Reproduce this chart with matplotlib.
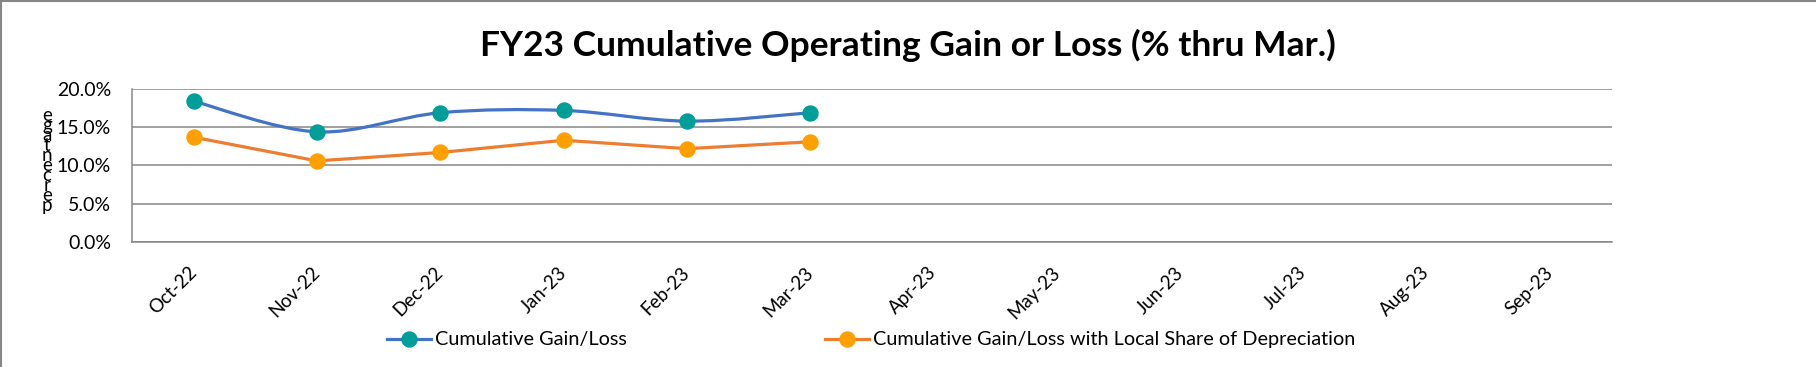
import matplotlib
matplotlib.use("Agg")
import matplotlib.pyplot as plt
import numpy as np
from matplotlib.lines import Line2D
from matplotlib.patches import PathPatch
from matplotlib.path import Path
from matplotlib.ticker import PercentFormatter

months = ["Oct-22", "Nov-22", "Dec-22", "Jan-23", "Feb-23", "Mar-23",
          "Apr-23", "May-23", "Jun-23", "Jul-23", "Aug-23", "Sep-23"]
gain_loss = [18.4, 14.4, 16.9, 17.2, 15.8, 16.9]
gain_loss_dep = [13.7, 10.6, 11.7, 13.3, 12.2, 13.1]

TITLE = "FY23 Cumulative Operating Gain or Loss (% thru Mar.)"
LABEL_1 = "Cumulative Gain/Loss"
LABEL_2 = "Cumulative Gain/Loss with Local Share of Depreciation"

BLUE = "#4472C4"
TEAL = "#009E98"
ORANGE_LINE = "#ED7D31"
ORANGE_MARK = "#FFA000"
GRID = "#868686"

plt.rcParams["font.family"] = ["Lato", "DejaVu Sans"]

W, H = 1816, 367
fig = plt.figure(figsize=(W / 100, H / 100), dpi=100)
ax = fig.add_axes([132 / W, 1 - 242 / H, (1612 - 132) / W, (242 - 89) / H])


def smooth_path(xs, ys):
    # Excel-style smoothed line: cubic Bezier through every point
    pts = np.column_stack([xs, ys])
    verts = [pts[0]]
    codes = [Path.MOVETO]
    n = len(pts)
    for i in range(n - 1):
        p0 = pts[max(i - 1, 0)]
        p1 = pts[i]
        p2 = pts[i + 1]
        p3 = pts[min(i + 2, n - 1)]
        c1 = p1 + (p2 - p0) / 6.0
        c2 = p2 - (p3 - p1) / 6.0
        verts += [c1, c2, p2]
        codes += [Path.CURVE4] * 3
    return Path(verts, codes)


x1 = np.arange(len(gain_loss))
x2 = np.arange(len(gain_loss_dep))

ax.add_patch(PathPatch(smooth_path(x1, gain_loss), facecolor="none",
                       edgecolor=BLUE, lw=2.3, zorder=3))
ax.plot(x1, gain_loss, ls="none", marker="o", ms=10.8, color=TEAL, zorder=4)
ax.plot(x2, gain_loss_dep, color=ORANGE_LINE, lw=2.3, zorder=3)
ax.plot(x2, gain_loss_dep, ls="none", marker="o", ms=10.8, color=ORANGE_MARK, zorder=4)

ax.set_xlim(-0.5, len(months) - 0.5)
ax.set_ylim(0, 20)
ax.set_yticks([0, 5, 10, 15, 20])
ax.yaxis.set_major_formatter(PercentFormatter(decimals=1))
ax.set_xticks(range(len(months)))
ax.set_xticklabels(months, rotation=45, ha="right", va="center",
                   rotation_mode="anchor", fontsize=13.5)
ax.tick_params(axis="x", length=0, pad=20)
ax.tick_params(axis="y", length=0, pad=15, labelsize=14)
ax.grid(axis="y", color=GRID, lw=1.1)
ax.set_axisbelow(True)
for s in ["top", "right"]:
    ax.spines[s].set_visible(False)
ax.spines["left"].set_color(GRID)
ax.spines["bottom"].set_color(GRID)
ax.spines["left"].set_linewidth(1.1)
ax.spines["bottom"].set_linewidth(1.1)

fig.text(0.5, 1 - 45 / H, TITLE, ha="center", va="center",
         fontsize=25.5, fontweight="bold")

# stacked y-label as rendered in the source
fig.text(47 / W, 1 - 161 / H, "\n".join(reversed("percentage")),
         ha="center", va="center", fontsize=13.5, linespacing=0.5)

handles = [
    Line2D([], [], color=BLUE, lw=2.3, marker="o", ms=10.8,
           markerfacecolor=TEAL, markeredgecolor=TEAL),
    Line2D([], [], color=ORANGE_LINE, lw=2.3, marker="o", ms=10.8,
           markerfacecolor=ORANGE_MARK, markeredgecolor=ORANGE_MARK),
]
fig.legend(handles, [LABEL_1, LABEL_2], loc="center",
           bbox_to_anchor=(871 / W, 1 - 340 / H), ncol=2, frameon=False,
           fontsize=14.3, handlelength=2.2, handletextpad=0.2,
           columnspacing=10.0)

# chart border (left and top edges visible in the source)
fig.add_artist(Line2D([1 / W, 1 / W], [0, 1 - 1 / H], color=GRID, lw=1.5))
fig.add_artist(Line2D([1 / W, 1], [1 - 1 / H, 1 - 1 / H], color=GRID, lw=1.5))

fig.savefig("out.png", dpi=100)
